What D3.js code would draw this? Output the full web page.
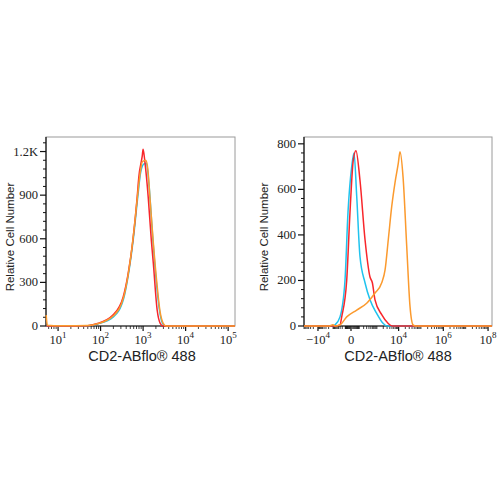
<!DOCTYPE html>
<html>
<head>
<meta charset="utf-8">
<script src="https://cdn.jsdelivr.net/npm/d3@7"></script>
<style>
  body { margin: 0; background: #fff; }
  .tick-label { font-family: "Liberation Serif", serif; font-size: 12.5px; fill: #222; }
  .axis-title { font-family: "Liberation Sans", Arial, sans-serif; fill: #222; }
</style>
</head>
<body>
<div id="container"></div>
<script>

// Left panel: intensity / count pairs
const leftRed = [[5.3, 0], [10, 0], [50, 2], [81, 15], [195, 75], [340, 200], [445, 360], [575, 590],
  [725, 885], [790, 1020], [955, 1170], [1000, 1215], [1100, 1130], [1320, 885], [1560, 590], [1740, 430],
  [2140, 110], [2510, 20], [2950, 0], [145000, 0]];
const leftCyan = [[5.3, 0], [8, 0], [50, 2], [85, 14], [200, 62], [350, 190], [460, 370], [600, 620],
  [750, 890], [880, 1060], [1050, 1115], [1200, 1120], [1350, 1000], [1700, 590], [2050, 300],
  [2450, 100], [2900, 15], [3400, 0], [145000, 0]];
const leftOrange = [[5.25, 75], [5.6, 5], [8, 2], [50, 3], [85, 15], [200, 70], [350, 200], [460, 380],
  [590, 620], [730, 880], [860, 1060], [960, 1130], [1150, 1140], [1290, 1080], [1450, 880],
  [1720, 590], [2100, 300], [2500, 100], [2950, 20], [3500, 0], [145000, 0]];

// Right panel
const rightRed = [[-80000, 0], [-730, 0], [-308, 5], [-223, 40], [-67, 200], [-12, 500], [20, 730],
  [50, 770], [114, 640], [242, 380], [455, 215], [600, 190], [812, 115], [1695, 50], [3310, 12],
  [5030, 0], [150000000, 0]];
const rightCyan = [[-80000, 0], [-1007, 0], [-730, 5], [-308, 40], [-108, 200], [-42, 500], [5.6, 700],
  [27, 760], [60, 570], [114, 305], [242, 190], [455, 115], [983, 55], [1946, 12], [2980, 0],
  [150000000, 0]];
const rightOrange = [[-80000, 0], [-2000, 0], [-1007, 5], [-730, 0], [-308, 5], [-67, 40], [60, 70],
  [302, 100], [812, 145], [1695, 190], [2410, 245], [3410, 380], [4880, 525], [6880, 630],
  [9680, 715], [11550, 765], [15800, 655], [23100, 350], [32500, 85], [44300, 5], [60000, 0],
  [150000000, 0]];

// Tick values and labels
const leftYTicks = [0, 300, 600, 900, 1200];
const leftYLabels = ["0", "300", "600", "900", "1.2K"];
const rightYTicks = [0, 200, 400, 600, 800];
const leftXTicks = [1e1, 1e2, 1e3, 1e4, 1e5];
const leftXExp = ["1", "2", "3", "4", "5"];
const rightXTicks = [-1e4, 0, 1e4, 1e6, 1e8];
const rightXBase = ["\u221210", "0", "10", "10", "10"];
const rightXExp = ["4", "", "4", "6", "8"];

const colors = { red: "#f8262b", cyan: "#1fc3ee", orange: "#fb9a2e" };

const width = 500;
const height = 500;
const plotTop = 137, plotBottom = 326;

const svg = d3.select("#container").append("svg")
    .attr("width", width)
    .attr("height", height);

// Scales
const xL = d3.scaleLog().domain([5.2, 145000]).range([46, 235]);
const yL = d3.scaleLinear().domain([0, 1300]).range([plotBottom, plotTop]);
const xR = d3.scaleSymlog().constant(75).domain([-80000, 0, 150000000]).range([304, 351, 492]);
const yR = d3.scaleLinear().domain([0, 830]).range([plotBottom, plotTop]);

function frame(x0, x1) {
  svg.append("rect")
    .attr("x", x0).attr("y", plotTop)
    .attr("width", x1 - x0).attr("height", plotBottom - plotTop)
    .attr("fill", "none").attr("stroke", "#9a9a9a").attr("stroke-width", 1);
  svg.append("line").attr("x1", x0).attr("x2", x1).attr("y1", plotBottom).attr("y2", plotBottom)
    .attr("stroke", "#111").attr("stroke-width", 1.2);
  svg.append("line").attr("x1", x0).attr("x2", x0).attr("y1", plotTop).attr("y2", plotBottom)
    .attr("stroke", "#111").attr("stroke-width", 1.2);
}

function yAxis(y, x0, majors, labels, step) {
  const g = svg.append("g");
  const minors = d3.range(0, y.domain()[1], step).filter(v => !majors.includes(v));
  g.selectAll(".mn").data(minors).enter().append("line")
    .attr("x1", x0 - 3).attr("x2", x0).attr("y1", d => y(d)).attr("y2", d => y(d))
    .attr("stroke", "#111");
  g.selectAll(".mj").data(majors).enter().append("line")
    .attr("x1", x0 - 6).attr("x2", x0).attr("y1", d => y(d)).attr("y2", d => y(d))
    .attr("stroke", "#111").attr("stroke-width", 1.2);
  g.selectAll("text").data(majors).enter().append("text")
    .attr("class", "tick-label")
    .attr("x", x0 - 8).attr("y", d => y(d) + 4)
    .attr("text-anchor", "end")
    .text((d, i) => labels[i]);
}

function xTicks(x, minors, majors) {
  const g = svg.append("g");
  g.selectAll(".mn").data(minors).enter().append("line")
    .attr("x1", d => x(d)).attr("x2", d => x(d)).attr("y1", plotBottom).attr("y2", plotBottom + 3)
    .attr("stroke", "#111").attr("stroke-width", 0.8);
  g.selectAll(".mj").data(majors).enter().append("line")
    .attr("x1", d => x(d)).attr("x2", d => x(d)).attr("y1", plotBottom).attr("y2", plotBottom + 5)
    .attr("stroke", "#111").attr("stroke-width", 1.2);
}

function xLabels(x, ticks, base, exp) {
  ticks.forEach((t, i) => {
    const txt = svg.append("text")
      .attr("class", "tick-label")
      .attr("x", x(t)).attr("y", 344)
      .attr("text-anchor", "middle");
    txt.append("tspan").text(base[i]);
    if (exp[i]) txt.append("tspan").attr("dy", -6).attr("font-size", 9).text(exp[i]);
  });
}

function titles(cx, cyx) {
  svg.append("text").attr("class", "axis-title")
    .attr("x", cx).attr("y", 361).attr("text-anchor", "middle")
    .attr("font-size", 14.5)
    .text("CD2-ABflo\u00ae 488");
  svg.append("text").attr("class", "axis-title")
    .attr("transform", `translate(${cyx},237) rotate(-90)`)
    .attr("text-anchor", "middle")
    .attr("font-size", 11.5)
    .text("Relative Cell Number");
}

function curve(data, x, y, color) {
  const line = d3.line().x(d => x(d[0])).y(d => y(d[1])).curve(d3.curveMonotoneX);
  svg.append("path").datum(data)
    .attr("d", line)
    .attr("fill", "none")
    .attr("stroke", color)
    .attr("stroke-width", 1.5)
    .attr("stroke-linejoin", "round");
}

// ---- Left panel
frame(46, 235);
yAxis(yL, 46, leftYTicks, leftYLabels, 60);
const leftMinors = [];
for (let k = 0; k <= 5; k++) for (let m = 2; m <= 9; m++) {
  const v = m * Math.pow(10, k);
  if (v >= 5.2 && v <= 145000) leftMinors.push(v);
}
xTicks(xL, leftMinors, leftXTicks);
xLabels(xL, leftXTicks, leftXTicks.map(() => "10"), leftXExp);
titles(142, 14);
curve(leftCyan, xL, yL, colors.cyan);
curve(leftRed, xL, yL, colors.red);
curve(leftOrange, xL, yL, colors.orange);

// ---- Right panel
frame(304, 492);
yAxis(yR, 304, rightYTicks, rightYTicks.map(String), 40);
const rightMinors = [];
for (let k = 1; k <= 8; k++) for (let m = 1; m <= 9; m++) {
  const v = m * Math.pow(10, k);
  if (v <= 150000000 && !rightXTicks.includes(v)) rightMinors.push(v);
  if (v <= 80000 && !rightXTicks.includes(-v)) rightMinors.push(-v);
}
xTicks(xR, rightMinors, rightXTicks);
xLabels(xR, rightXTicks, rightXBase, rightXExp);
titles(398, 268);
curve(rightCyan, xR, yR, colors.cyan);
curve(rightRed, xR, yR, colors.red);
curve(rightOrange, xR, yR, colors.orange);

</script>
</body>
</html>
